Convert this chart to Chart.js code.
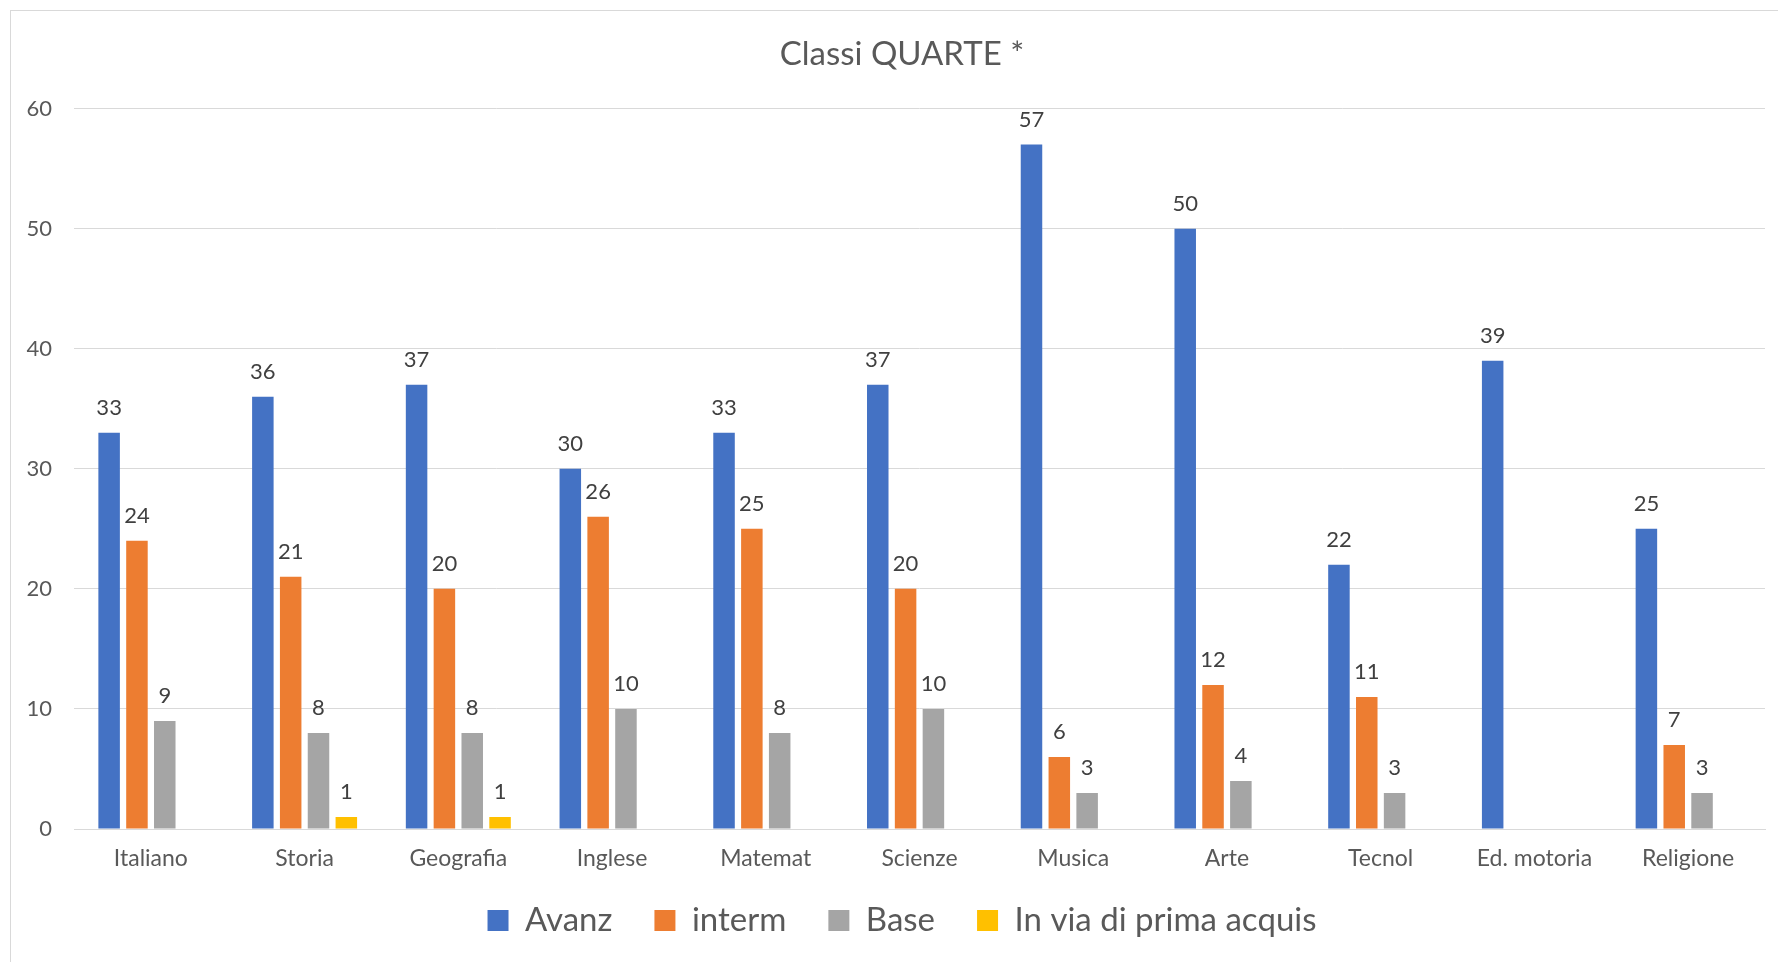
<!DOCTYPE html>
<html>
<head>
<meta charset="utf-8">
<title>Classi QUARTE</title>
<script src="https://cdn.jsdelivr.net/npm/chart.js@4.4.1/dist/chart.umd.min.js"></script>
<style>
    html, body { margin: 0; padding: 0; background: #fff; overflow: hidden; }
    #frame {
        position: absolute;
        left: 10px;
        top: 10px;
        border: 1px solid #d9d9d9;
        width: 1784px;
        height: 1000px;
    }
    canvas { display: block; }
</style>
</head>
<body>
<div id="frame"><canvas id="quarte-chart" width="1784" height="936"></canvas></div>
<script>
// dati
const categories = ['Italiano', 'Storia', 'Geografia', 'Inglese', 'Matemat', 'Scienze', 'Musica', 'Arte', 'Tecnol', 'Ed. motoria', 'Religione'];
const avanz  = [33, 36, 37, 30, 33, 37, 57, 50, 22, 39, 25];
const interm = [24, 21, 20, 26, 25, 20, 6, 12, 11, null, 7];
const base   = [9, 8, 8, 10, 8, 10, 3, 4, 3, null, 3];
const inVia  = [null, 1, 1, null, null, null, null, null, null, null, null];
const yTicks = [0, 10, 20, 30, 40, 50, 60];

const textColor = '#595959';
const gridColor = '#d9d9d9';

// etichette sopra le barre (niente plugin datalabels disponibile)
const barLabels = {
    id: 'barLabels',
    afterDatasetsDraw(chart) {
        const ctx = chart.ctx;
        ctx.save();
        ctx.font = '22px Lato';
        ctx.fillStyle = '#404040';
        ctx.textAlign = 'center';
        ctx.textBaseline = 'middle';
        chart.data.datasets.forEach((ds, i) => {
            chart.getDatasetMeta(i).data.forEach((bar, j) => {
                const v = ds.data[j];
                if (v == null) return;
                ctx.fillText(String(v), bar.x, bar.y - 25);
            });
        });
        ctx.restore();
    }
};

const makeSet = (label, data, color) => ({
    label: label,
    data: data,
    backgroundColor: color,
    borderColor: color,
    borderWidth: 0,
    categoryPercentage: 0.724,
    barPercentage: 0.773
});

const config = {
    type: 'bar',
    data: {
        labels: categories,
        datasets: [
            makeSet('Avanz', avanz, '#4472c4'),
            makeSet('interm', interm, '#ed7d31'),
            makeSet('Base', base, '#a5a5a5'),
            makeSet('In via di prima acquis', inVia, '#ffc000')
        ]
    },
    options: {
        responsive: false,
        animation: false,
        layout: {
            padding: {left: 28, right: 30, top: 0, bottom: 0}
        },
        plugins: {
            title: {
                display: true,
                text: 'Classi QUARTE *',
                color: textColor,
                font: {family: 'Lato', size: 33, weight: 'normal'},
                padding: {top: 24, bottom: 34}
            },
            legend: {
                position: 'bottom',
                labels: {
                    color: textColor,
                    font: {family: 'Lato', size: 33},
                    boxWidth: 21,
                    boxHeight: 21,
                    padding: 42
                }
            },
            tooltip: {enabled: false}
        },
        scales: {
            x: {
                grid: {display: false, drawTicks: false},
                border: {display: true, color: gridColor, width: 1},
                ticks: {
                    color: textColor,
                    font: {family: 'Lato', size: 23},
                    padding: 16,
                    maxRotation: 0
                },
                afterFit: (scale) => {
                    // axis kept short so the legend sits lower; labels must not be clipped
                    scale.height = 33;
                    scale.paddingLeft = 0;
                    scale.paddingRight = 0;
                    scale._computeLabelArea = () => undefined;
                }
            },
            y: {
                min: 0,
                max: 60,
                afterBuildTicks: (scale) => { scale.ticks = yTicks.map(v => ({value: v})); },
                afterFit: (scale) => {
                    scale.width = 35;
                    scale._computeLabelArea = () => undefined;
                },
                grid: {color: gridColor, lineWidth: 1, drawTicks: false},
                border: {display: false},
                ticks: {
                    color: textColor,
                    font: {family: 'Lato', size: 22},
                    padding: 22
                }
            }
        }
    },
    plugins: [barLabels]
};

const quarteChart = new Chart(document.getElementById('quarte-chart'), config);
</script>
</body>
</html>
